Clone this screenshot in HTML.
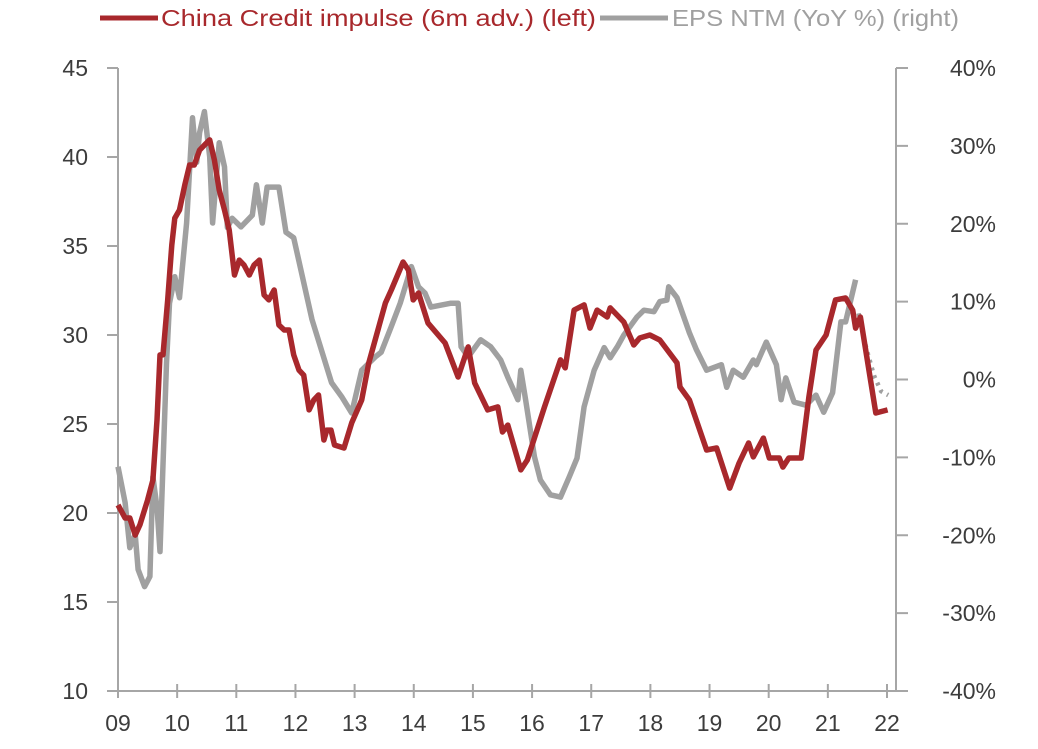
<!DOCTYPE html>
<html><head><meta charset="utf-8"><style>
html,body{margin:0;padding:0;background:#fff;}
svg{display:block;font-family:"Liberation Sans Narrow","Liberation Sans",sans-serif;}
</style></head><body>
<svg id="chart" width="1038" height="749" viewBox="0 0 1038 749">
<g id="legend">
 <line x1="100" y1="18" x2="158" y2="18" stroke="#a8282c" stroke-width="5"/>
 <text x="161" y="26" font-size="23" fill="#a8282c" textLength="435" lengthAdjust="spacingAndGlyphs">China Credit impulse (6m adv.) (left)</text>
 <line x1="600" y1="18" x2="668" y2="18" stroke="#a0a0a0" stroke-width="5"/>
 <text x="672" y="26" font-size="23" fill="#a0a0a0" textLength="287" lengthAdjust="spacingAndGlyphs">EPS NTM (YoY %) (right)</text>
</g>
<g id="axes"></g>
<g id="series"></g>
</svg>
<script>
const leftTicks=[10,15,20,25,30,35,40,45];
const rightTicks=[-40,-30,-20,-10,0,10,20,30,40];
const yearTicks=[2009,2010,2011,2012,2013,2014,2015,2016,2017,2018,2019,2020,2021,2022];
const yearLabels=["09","10","11","12","13","14","15","16","17","18","19","20","21","22"];
const creditDates=[2009.00,2009.12,2009.20,2009.29,2009.37,2009.50,2009.59,2009.66,2009.71,2009.76,2009.84,2009.91,2009.96,2010.04,2010.13,2010.21,2010.29,2010.38,2010.46,2010.55,2010.63,2010.71,2010.80,2010.88,2010.97,2011.05,2011.13,2011.22,2011.30,2011.39,2011.47,2011.55,2011.64,2011.72,2011.81,2011.89,2011.97,2012.06,2012.14,2012.23,2012.31,2012.39,2012.48,2012.53,2012.60,2012.66,2012.82,2012.95,2013.12,2013.24,2013.52,2013.62,2013.82,2013.91,2013.99,2014.08,2014.24,2014.53,2014.75,2014.92,2015.03,2015.25,2015.42,2015.50,2015.59,2015.81,2015.92,2016.21,2016.48,2016.56,2016.71,2016.88,2016.98,2017.10,2017.27,2017.32,2017.55,2017.72,2017.82,2017.99,2018.16,2018.45,2018.50,2018.66,2018.95,2019.12,2019.34,2019.50,2019.66,2019.74,2019.91,2020.01,2020.18,2020.24,2020.34,2020.55,2020.68,2020.80,2020.97,2021.13,2021.30,2021.42,2021.47,2021.55,2021.81,2022.01];
const creditValues=[20.45,19.72,19.72,18.76,19.33,20.73,21.85,25.22,28.88,28.88,31.97,35.06,36.57,37.02,38.43,39.55,39.55,40.39,40.67,40.96,39.83,38.15,37.02,35.90,33.37,34.21,33.93,33.37,33.93,34.21,32.25,31.97,32.53,30.56,30.28,30.28,28.88,28.03,27.75,25.79,26.35,26.63,24.10,24.66,24.66,23.82,23.65,25.06,26.35,28.43,31.80,32.53,34.10,33.65,31.97,32.36,30.67,29.55,27.64,29.33,27.30,25.79,25.96,24.55,24.94,22.42,22.98,25.96,28.60,28.15,31.40,31.69,30.39,31.40,31.01,31.52,30.73,29.44,29.83,30.00,29.72,28.43,27.08,26.35,23.54,23.65,21.40,22.81,23.93,23.15,24.21,23.09,23.09,22.58,23.09,23.09,26.52,29.16,30.00,31.97,32.08,31.40,30.39,31.01,25.62,25.79];
const epsDates=[2009.00,2009.12,2009.20,2009.29,2009.34,2009.45,2009.54,2009.59,2009.66,2009.71,2009.82,2009.87,2009.96,2010.04,2010.16,2010.26,2010.33,2010.38,2010.46,2010.55,2010.60,2010.71,2010.80,2010.85,2010.93,2011.08,2011.27,2011.34,2011.44,2011.52,2011.72,2011.84,2011.97,2012.28,2012.61,2012.78,2012.95,2013.12,2013.35,2013.45,2013.62,2013.77,2013.96,2014.08,2014.19,2014.29,2014.63,2014.75,2014.80,2014.92,2015.13,2015.30,2015.47,2015.59,2015.76,2015.81,2015.89,2016.04,2016.14,2016.31,2016.48,2016.63,2016.76,2016.88,2017.05,2017.22,2017.32,2017.44,2017.55,2017.77,2017.89,2018.06,2018.16,2018.28,2018.31,2018.45,2018.66,2018.78,2018.95,2019.20,2019.29,2019.40,2019.57,2019.74,2019.79,2019.96,2020.13,2020.21,2020.29,2020.43,2020.63,2020.80,2020.93,2021.08,2021.22,2021.30,2021.47];
const epsValues=[-11.2,-15.8,-21.6,-19.9,-24.4,-26.6,-25.3,-12.5,-16.4,-22.1,2.1,9.8,13.2,10.5,20.1,33.6,27.9,31.7,34.4,28.6,20.1,30.4,27.3,19.5,20.7,19.6,21.1,25.0,20.1,24.7,24.7,18.9,18.2,7.7,-0.4,-2.2,-4.3,1.2,2.9,3.5,6.8,9.8,14.5,11.9,11.1,9.3,9.8,9.8,4.2,2.9,5.1,4.2,2.5,0.3,-2.6,1.2,-2.6,-9.9,-12.9,-14.8,-15.1,-12.5,-10.1,-3.5,1.2,4.1,2.8,4.2,5.7,8.0,8.9,8.7,10.0,10.2,11.9,10.5,6.0,3.8,1.2,1.9,-1.0,1.2,0.3,2.5,1.9,4.8,1.9,-2.6,0.2,-2.9,-3.3,-2.0,-4.2,-1.7,7.4,7.4,12.8];
const epsFcstDates=[2021.52,2021.65,2021.78,2021.90,2022.02];
const epsFcstValues=[8.5,4.0,0.5,-1.5,-2.0];

const X0=118,X1=887,YT=68,YB=691;
const xS=y=>X0+(y-2009)/(2022-2009)*(X1-X0);
const yL=v=>YB-(v-10)/(45-10)*(YB-YT);
const yR=v=>YB-(v+40)/80*(YB-YT);
const NS="http://www.w3.org/2000/svg";
const axes=document.getElementById('axes'),series=document.getElementById('series');
function mk(t,a,p){const e=document.createElementNS(NS,t);for(const k in a)e.setAttribute(k,a[k]);p.appendChild(e);return e;}
const AX="#a6a6a6",TX="#3c3c3c";
let e;
e=mk('line',{x1:X0,y1:YT,x2:X0,y2:YB,stroke:AX,'stroke-width':2},axes);


e=mk('line',{x1:896,y1:YT,x2:896,y2:YB,stroke:AX,'stroke-width':2},axes);


e=mk('line',{x1:X0,y1:YB,x2:906,y2:YB,stroke:AX,'stroke-width':2},axes);


leftTicks.forEach(v=>{const y=yL(v);
 e=mk('line',{x1:107,y1:y,x2:X0,y2:y,stroke:AX,'stroke-width':2},axes);
 
 
 e=mk('text',{x:88,y:y+8,'font-size':23,fill:TX,'text-anchor':'end'},axes);e.textContent=v;
 
 });
rightTicks.forEach(v=>{const y=yR(v);
 e=mk('line',{x1:896,y1:y,x2:908,y2:y,stroke:AX,'stroke-width':2},axes);
 
 
 e=mk('text',{x:996,y:y+8,'font-size':23,fill:TX,'text-anchor':'end'},axes);e.textContent=v+'%';
 
 });
yearTicks.forEach((yr,i)=>{const x=xS(yr);
 e=mk('line',{x1:x,y1:684,x2:x,y2:698,stroke:AX,'stroke-width':2},axes);
 
 
 e=mk('text',{x:x,y:731,'font-size':23,fill:TX,'text-anchor':'middle'},axes);e.textContent=yearLabels[i];
 
 });
const pts=(d,v,f)=>d.map((t,i)=>xS(t).toFixed(1)+','+f(v[i]).toFixed(1)).join(' ');
e=mk('polyline',{points:pts(epsDates,epsValues,yR),fill:'none',stroke:'#a0a0a0','stroke-width':5.5,'stroke-linejoin':'round'},series);


e=mk('polyline',{points:pts(epsFcstDates,epsFcstValues,yR),fill:'none',stroke:'#a0a0a0','stroke-width':4.5,'stroke-dasharray':'3 5'},series);


e=mk('polyline',{points:pts(creditDates,creditValues,yL),fill:'none',stroke:'#a8282c','stroke-width':5.5,'stroke-linejoin':'round'},series);


</script>
</body></html>
